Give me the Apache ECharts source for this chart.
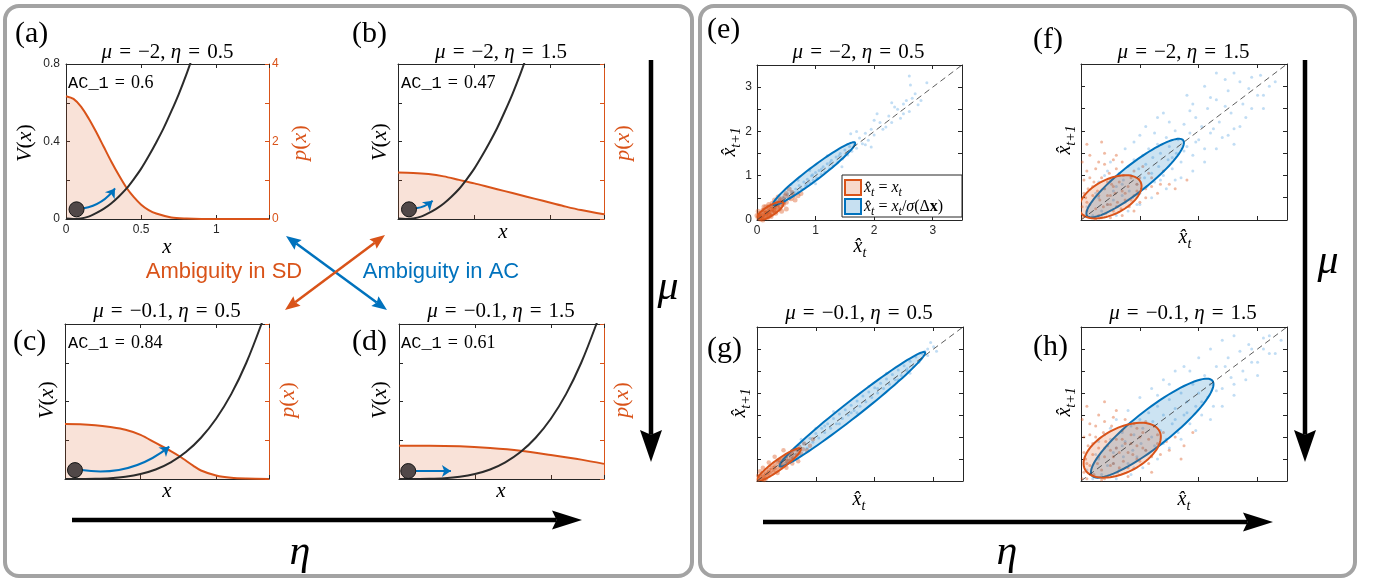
<!DOCTYPE html>
<html><head><meta charset="utf-8">
<script src="https://cdn.jsdelivr.net/npm/echarts@6/dist/echarts.min.js"></script>
<style>html,body{margin:0;padding:0;background:#fff}#c{width:1375px;height:583px}</style>
</head><body><div id="c"></div>
<script>
// ---------------- DATA ----------------
// potential V(x): panels (a),(b) mu=-2 ; panels (c),(d) mu=-0.1
const vMuNeg2 = [[0,0.003],[0.05,0.0005],[0.1,0.003],[0.15,0.012],[0.2,0.03],[0.25,0.052],[0.3,0.08],[0.35,0.115],[0.4,0.155],[0.45,0.205],[0.5,0.26],[0.55,0.325],[0.6,0.395],[0.65,0.47],[0.7,0.555],[0.75,0.645],[0.8,0.745],[0.85,0.855]];
const vMuNeg01 = [[0,0],[0.1,0.0001],[0.2,0.0009],[0.3,0.004],[0.4,0.0115],[0.5,0.0257],[0.6,0.049],[0.7,0.086],[0.8,0.139],[0.9,0.213],[1.0,0.311],[1.1,0.438],[1.2,0.6],[1.3,0.8],[1.35,0.917]];
// stationary density p(x)
const pA = [[0,3.17],[0.05,3.1],[0.1,2.9],[0.15,2.6],[0.2,2.25],[0.25,1.87],[0.3,1.49],[0.35,1.14],[0.4,0.82],[0.45,0.57],[0.5,0.37],[0.55,0.23],[0.6,0.14],[0.7,0.04],[0.8,0.01],[0.9,0],[1.35,0]];
const pB = [[0,1.2],[0.1,1.19],[0.2,1.16],[0.3,1.1],[0.4,1.01],[0.5,0.92],[0.6,0.82],[0.7,0.72],[0.8,0.62],[0.9,0.52],[1.0,0.42],[1.1,0.32],[1.2,0.23],[1.35,0.12]];
const pC = [[0,1.42],[0.1,1.415],[0.2,1.39],[0.3,1.34],[0.4,1.27],[0.5,1.14],[0.6,0.93],[0.7,0.72],[0.76,0.58],[0.85,0.34],[0.9,0.22],[1.0,0.09],[1.1,0.03],[1.2,0.01],[1.35,0]];
const pD = [[0,0.86],[0.2,0.86],[0.4,0.845],[0.6,0.8],[0.8,0.73],[1.0,0.62],[1.2,0.5],[1.35,0.39]];
// ball positions and blue arrows (x, V)
const ballA = [0.07,0.05], ballB = [0.072,0.05], ballC = [0.066,0.046], ballD = [0.061,0.041];
const arrowA = [[0.117,0.055],[0.326,0.158]];
const arrowB = [[0.118,0.055],[0.227,0.094]];
const arrowC = [[0.11,0.046],[0.69,0.167]];
const arrowD = [[0.112,0.041],[0.342,0.041]];
const acValues = ['0.6','0.47','0.84','0.61'];
const muValues = ['\u22122','\u22122','\u22120.1','\u22120.1'];
const etaValues = ['0.5','1.5','0.5','1.5'];
const panelLetters = ['(a)','(b)','(c)','(d)','(e)','(f)','(g)','(h)'];
// tick labels
const tickXA = [0,0.5,1], tickVA = [0,0.4,0.8], tickPA = [0,2,4], tickE = [0,1,2,3];
// right panels: scatter clouds [x_t, x_t+1]
const blueE = [[0.25,0.3],[0.32,0.28],[0.35,0.42],[0.4,0.36],[0.45,0.5],[0.48,0.41],[0.52,0.58],[0.55,0.49],[0.6,0.63],[0.62,0.55],[0.66,0.7],[0.7,0.64],[0.72,0.78],[0.76,0.7],[0.8,0.86],[0.83,0.77],[0.86,0.92],[0.9,0.84],[0.93,1.0],[0.96,0.9],[1.0,1.07],[1.02,0.95],[1.06,1.12],[1.1,1.03],[1.13,1.2],[1.16,1.08],[1.2,1.27],[1.24,1.16],[1.27,1.35],[1.3,1.22],[1.35,1.42],[1.38,1.3],[1.42,1.5],[1.46,1.38],[1.5,1.58],[1.55,1.47],[1.58,1.66],[1.62,1.55],[1.66,1.75],[1.7,1.62],[1.75,1.85],[1.8,1.72],[1.85,1.96],[1.9,1.8],[1.95,2.05],[2.0,1.92],[2.1,2.2],[2.15,2.05],[2.25,2.35],[2.3,2.2],[2.4,2.5],[2.45,2.3],[2.55,2.7],[2.6,2.45],[2.7,2.85],[2.62,3.05],[2.5,2.62],[1.6,1.95],[1.2,1.45],[0.9,1.12],[1.45,1.2],[0.7,0.9],[2.05,2.4],[2.75,2.6],[0.58,0.8],[1.0,0.82],[2.2,2.1],[2.35,2.55],[2.5,2.4],[2.65,2.75],[2.8,2.7],[2.9,3.1],[1.85,1.7],[2.0,2.25],[2.6,3.25],[1.7,2.0],[2.3,2.65],[1.95,1.65],[0.85,0.8],[1.1,1.15],[1.4,1.45],[0.65,0.62],[1.25,1.3],[0.95,1.02]];
const orangeE = [[0.02,0.05],[0.05,0.02],[0.08,0.1],[0.1,0.05],[0.12,0.15],[0.15,0.1],[0.18,0.2],[0.2,0.12],[0.22,0.25],[0.25,0.18],[0.28,0.3],[0.3,0.22],[0.33,0.35],[0.35,0.28],[0.38,0.42],[0.4,0.3],[0.43,0.48],[0.45,0.35],[0.48,0.55],[0.5,0.4],[0.55,0.5],[0.6,0.62],[0.65,0.45],[0.05,0.15],[0.1,0.22],[0.15,0.3],[0.2,0.35],[0.3,0.45],[0.06,0.08],[0.14,0.06],[0.24,0.08],[0.32,0.15],[0.42,0.2],[0.12,0.3],[0.02,0.2],[0.08,0.02],[0.18,0.05],[0.03,0.1],[0.26,0.38],[0.36,0.52],[0.5,0.25],[0.7,0.55],[0.55,0.7],[0.16,0.16],[0.22,0.15],[0.28,0.22],[0.05,0.05],[0.1,0.1],[0.15,0.15],[0.2,0.2],[0.25,0.25],[0.3,0.3],[0.35,0.35],[0.1,0.0],[0.0,0.1],[0.2,0.3],[0.3,0.2],[0.4,0.45],[0.45,0.4],[0.58,0.48],[0.62,0.55],[0.75,0.6],[0.5,0.6],[0.12,0.22],[0.22,0.1],[0.38,0.25]];
const blueF = [[0.1,0.3],[0.2,0.1],[0.3,0.5],[0.35,0.2],[0.4,0.7],[0.45,0.35],[0.5,0.9],[0.55,0.45],[0.6,0.75],[0.62,0.3],[0.65,1.05],[0.7,0.55],[0.72,0.9],[0.75,0.4],[0.8,1.2],[0.82,0.65],[0.85,1.0],[0.88,0.5],[0.9,1.35],[0.95,0.8],[0.98,1.15],[1.0,0.6],[1.05,1.45],[1.08,0.95],[1.1,1.25],[1.12,0.75],[1.15,1.6],[1.2,1.05],[1.22,1.4],[1.25,0.85],[1.3,1.7],[1.32,1.2],[1.35,1.5],[1.4,1.0],[1.45,1.85],[1.48,1.35],[1.5,1.65],[1.55,1.15],[1.6,2.0],[1.62,1.5],[1.65,1.8],[1.7,1.3],[1.75,2.15],[1.8,1.65],[1.85,1.95],[1.9,1.45],[1.95,2.3],[2.0,1.8],[2.05,2.1],[2.1,1.6],[2.15,2.5],[2.2,1.95],[2.3,2.7],[2.35,2.2],[2.4,1.85],[2.5,2.9],[2.55,2.4],[2.6,2.05],[2.7,3.1],[2.75,2.6],[2.8,2.3],[2.9,3.2],[3.0,2.8],[3.1,2.5],[2.3,3.3],[1.3,2.3],[0.5,1.3],[1.9,2.6],[1.0,1.9],[2.6,1.7],[1.7,0.95],[3.2,3.0],[2.45,3.15],[0.3,0.85],[0.45,1.1],[0.6,0.1],[0.8,0.2],[1.0,0.35],[1.2,0.5],[1.45,0.7],[1.6,0.9],[1.9,1.1],[2.1,1.3],[2.3,1.6],[2.5,1.9],[2.7,2.1],[2.9,2.5],[3.1,2.8],[3.3,3.1],[1.1,2.1],[1.4,2.4],[1.8,2.8],[2.1,3.0],[0.75,1.6],[0.9,1.75],[2.2,2.75],[2.6,3.3],[1.5,2.2],[1.25,1.95],[0.4,1.0],[0.25,0.6],[1.85,2.45],[2.45,2.55],[2.85,2.95],[3.05,3.25],[1.55,1.4],[1.75,1.55],[1.95,1.75],[2.25,2.05],[0.95,0.35],[1.35,0.9],[0.55,0.65],[0.7,0.8]];
const orangeF = [[0.02,0.3],[0.05,0.1],[0.08,0.5],[0.1,0.2],[0.12,0.7],[0.15,0.35],[0.18,0.05],[0.2,0.55],[0.22,0.85],[0.25,0.25],[0.28,0.65],[0.3,0.1],[0.32,0.45],[0.35,0.95],[0.38,0.3],[0.4,0.7],[0.42,0.15],[0.45,0.55],[0.48,1.05],[0.5,0.35],[0.52,0.8],[0.55,0.2],[0.58,0.6],[0.6,1.15],[0.62,0.4],[0.65,0.85],[0.68,0.25],[0.7,0.65],[0.72,1.0],[0.75,0.45],[0.8,0.75],[0.82,0.3],[0.85,0.95],[0.9,0.55],[0.95,0.8],[1.0,0.4],[1.05,1.2],[1.1,0.7],[1.2,0.95],[1.3,0.6],[0.05,0.9],[0.1,1.1],[0.3,1.3],[0.15,1.45],[0.4,1.5],[0.6,1.45],[1.4,1.1],[1.5,0.8],[0.03,0.05],[0.25,0.02],[0.5,0.05],[0.7,0.1],[0.9,0.2],[0.1,0.4],[0.2,0.75],[0.3,0.55],[0.35,0.05],[0.45,0.85],[0.5,0.55],[0.6,0.3],[0.65,1.0],[0.75,0.6],[0.85,0.45],[0.95,0.65],[1.1,0.5],[1.2,0.75],[0.05,0.6],[0.15,0.95],[0.25,1.15],[0.4,1.25],[0.55,1.35],[0.7,1.3],[0.9,1.1],[1.0,0.95],[1.15,1.05],[1.35,0.8],[1.6,0.7],[0.02,1.3],[0.1,1.7],[0.35,1.75],[1.8,0.9],[0.45,0.35],[0.55,0.75]];
const blueG = [[0.4,0.35],[0.45,0.5],[0.5,0.42],[0.55,0.6],[0.6,0.52],[0.68,0.7],[0.72,0.62],[0.8,0.85],[0.85,0.75],[0.9,0.97],[0.95,0.88],[1.0,1.08],[1.05,0.98],[1.1,1.2],[1.15,1.1],[1.2,1.3],[1.25,1.2],[1.3,1.42],[1.35,1.3],[1.4,1.52],[1.45,1.42],[1.5,1.62],[1.55,1.5],[1.6,1.72],[1.65,1.6],[1.7,1.82],[1.75,1.7],[1.8,1.93],[1.85,1.8],[1.9,2.02],[1.95,1.9],[2.0,2.12],[2.05,2.0],[2.1,2.22],[2.15,2.1],[2.2,2.32],[2.25,2.2],[2.3,2.42],[2.35,2.3],[2.4,2.52],[2.45,2.4],[2.5,2.62],[2.55,2.5],[2.6,2.72],[2.65,2.6],[2.7,2.82],[2.75,2.7],[2.85,2.95],[2.9,2.85],[3.0,3.05],[1.3,1.58],[1.7,1.55],[2.2,2.45],[0.75,0.95],[2.6,2.45],[2.9,3.0],[2.8,2.9],[3.05,2.95],[2.95,3.15],[1.0,1.2],[1.4,1.3],[1.9,2.15],[2.4,2.3],[0.6,0.7],[0.35,0.45],[0.5,0.55],[0.65,0.6],[1.15,1.25],[1.6,1.55],[2.05,2.1],[2.55,2.55]];
const orangeG = [[0.02,0.03],[0.05,0.1],[0.08,0.04],[0.1,0.15],[0.12,0.08],[0.15,0.2],[0.18,0.12],[0.2,0.25],[0.22,0.16],[0.25,0.3],[0.28,0.2],[0.3,0.35],[0.32,0.25],[0.35,0.42],[0.38,0.3],[0.4,0.47],[0.42,0.35],[0.45,0.52],[0.48,0.4],[0.5,0.58],[0.52,0.45],[0.55,0.62],[0.58,0.5],[0.6,0.68],[0.62,0.52],[0.65,0.72],[0.68,0.6],[0.72,0.78],[0.75,0.62],[0.8,0.85],[0.85,0.7],[0.9,0.8],[0.1,0.3],[0.2,0.42],[0.35,0.18],[0.5,0.3],[0.3,0.55],[0.7,0.45],[0.05,0.22],[0.15,0.05],[0.45,0.7],[0.95,0.95],[0.6,0.4],[0.05,0.05],[0.1,0.1],[0.15,0.15],[0.2,0.2],[0.25,0.25],[0.3,0.3],[0.4,0.4],[0.5,0.5],[0.6,0.6],[0.7,0.7],[0.12,0.02],[0.02,0.12],[0.38,0.48],[0.55,0.45],[0.78,0.72]];
const blueH = [[0.1,0.25],[0.2,0.05],[0.3,0.5],[0.35,0.15],[0.4,0.75],[0.45,0.35],[0.5,0.95],[0.55,0.4],[0.6,0.75],[0.65,0.25],[0.7,1.1],[0.72,0.55],[0.75,0.9],[0.8,0.4],[0.85,1.25],[0.88,0.7],[0.9,1.05],[0.95,0.55],[1.0,1.4],[1.02,0.85],[1.05,1.2],[1.1,0.7],[1.15,1.55],[1.2,1.0],[1.22,1.35],[1.25,0.8],[1.3,1.7],[1.35,1.15],[1.4,1.5],[1.45,0.95],[1.5,1.85],[1.55,1.3],[1.6,1.65],[1.65,1.1],[1.7,2.0],[1.75,1.5],[1.8,1.8],[1.85,1.3],[1.9,2.2],[1.95,1.7],[2.0,2.0],[2.05,1.5],[2.1,2.4],[2.15,1.9],[2.2,2.2],[2.25,1.7],[2.3,2.6],[2.4,2.1],[2.5,2.8],[2.55,2.35],[2.6,1.95],[2.7,2.95],[2.75,2.5],[2.85,3.1],[2.9,2.7],[3.0,2.4],[3.1,3.0],[3.2,3.3],[2.0,2.8],[1.2,2.1],[0.6,1.4],[3.3,2.9],[2.4,3.2],[1.6,2.5],[0.3,0.9],[0.5,1.2],[0.6,0.05],[0.85,0.15],[1.05,0.3],[1.3,0.5],[1.5,0.75],[1.7,0.95],[1.95,1.15],[2.2,1.4],[2.4,1.7],[2.6,2.2],[2.8,2.3],[3.0,2.7],[3.2,2.9],[3.4,3.2],[1.0,1.9],[1.4,2.3],[1.75,2.6],[2.2,3.0],[0.8,1.6],[2.6,3.3],[1.5,2.2],[1.3,1.95],[0.4,1.05],[0.25,0.6],[1.85,2.5],[2.45,2.6],[2.9,3.0],[3.1,3.25],[1.6,1.4],[1.8,1.55],[2.05,1.8],[2.3,2.05],[0.9,0.3],[1.4,0.85],[0.55,0.65],[0.7,0.8]];
const orangeH = [[0.05,0.2],[0.08,0.5],[0.1,0.05],[0.12,0.8],[0.15,0.35],[0.2,0.6],[0.22,0.15],[0.25,1.0],[0.28,0.4],[0.3,0.75],[0.35,0.25],[0.38,1.1],[0.4,0.55],[0.42,0.9],[0.45,0.1],[0.5,0.7],[0.52,1.25],[0.55,0.4],[0.6,0.95],[0.62,0.2],[0.65,0.65],[0.7,1.15],[0.72,0.45],[0.75,0.85],[0.8,0.3],[0.85,1.05],[0.88,0.6],[0.9,1.3],[0.95,0.8],[1.0,0.45],[1.05,1.1],[1.1,0.7],[1.15,0.95],[1.2,0.55],[1.25,1.25],[1.3,0.85],[1.4,1.1],[1.5,0.7],[0.05,1.0],[0.15,1.3],[0.3,1.5],[0.6,1.6],[1.6,1.0],[1.7,0.5],[0.02,0.05],[0.35,0.02],[0.8,0.1],[1.2,0.2],[0.1,0.4],[0.2,0.85],[0.3,0.55],[0.4,0.05],[0.45,0.8],[0.55,0.55],[0.65,0.3],[0.7,0.95],[0.8,0.65],[0.95,0.5],[1.05,0.75],[1.15,0.4],[1.3,1.05],[0.05,0.65],[0.15,1.05],[0.25,1.25],[0.4,1.35],[0.55,1.45],[0.75,1.4],[0.95,1.2],[1.1,1.35],[1.35,0.6],[1.45,0.9],[1.75,0.8],[0.02,1.4],[0.1,1.7],[0.4,1.8],[1.9,1.1],[0.5,0.35],[0.85,0.85],[1.0,1.0],[0.6,0.75]];
// covariance ellipses: [centerX, centerY, semiMajor, semiMinor, angleDeg]
const ellBlueE = [0.975,1.045,0.99,0.13,45.4], ellOrangeE = [0.22,0.2,0.3,0.1,42];
const ellBlueF = [0.92,0.94,1.18,0.27,47], ellOrangeF = [0.5,0.52,0.62,0.36,40];
const ellBlueG = [1.62,1.63,1.79,0.16,46.5], ellOrangeG = [0.37,0.37,0.52,0.1,45];
const ellBlueH = [1.21,1.2,1.49,0.36,47.5], ellOrangeH = [0.7,0.7,0.78,0.46,42];
const diagLine = [[0,0],[3.5,3.5]];

// ---------------- LAYOUT / STYLE ----------------
const ORANGE = '#D95319', BLUE = '#0072BD', AX = '#262626';
const SERIF = "'Liberation Serif','DejaVu Serif',serif";
const SANS = "'Liberation Sans',Arial,sans-serif";
const MONO = "'Liberation Mono','DejaVu Sans Mono',monospace";
const gridBoxes = [[66,64,203,155],[398,64,206,155],[65,324,204,155],[399,324,205,155],[757,65,205,155],[1081,64,206,156],[757,327,206,154],[1081,327,206,154]];

const has = (arr, v) => arr.some(t => Math.abs(t - v) < 1e-9);
const grids = gridBoxes.map(g => ({left:g[0], top:g[1], width:g[2], height:g[3], containLabel:false}));
const xAxes = [], yAxes = [];
function mkAxis(gi, pos, min, max, interval, color, labels, margin) {
  return {
    gridIndex: gi, type: 'value', position: pos, min, max, interval,
    axisLine: {show: true, onZero: false, lineStyle: {color, width: 1}},
    axisTick: {show: true, inside: true, length: 4, lineStyle: {color, width: 1}},
    axisLabel: labels ? {show: true, color, fontSize: 12, fontFamily: SANS, margin, showMinLabel: true, showMaxLabel: true,
      formatter: v => has(labels, v) ? String(v) : ''} : {show: false},
    splitLine: {show: false}
  };
}
for (let gi = 0; gi < 8; gi++) {
  if (gi < 4) {
    xAxes.push(mkAxis(gi, 'bottom', 0, 1.35, 0.5, AX, gi === 0 ? tickXA : null, 5));
    xAxes.push(mkAxis(gi, 'top', 0, 1.35, 0.5, AX, null));
    yAxes.push(mkAxis(gi, 'left', 0, 0.8, 0.2, AX, gi === 0 ? tickVA : null, 6));
    yAxes.push(mkAxis(gi, 'right', 0, 4, 1, ORANGE, gi === 0 ? tickPA : null, 3));
  } else {
    xAxes.push(mkAxis(gi, 'bottom', 0, 3.5, 1, AX, gi === 4 ? tickE : null, 5));
    xAxes.push(mkAxis(gi, 'top', 0, 3.5, 1, AX, null));
    yAxes.push(mkAxis(gi, 'left', 0, 3.5, 0.5, AX, gi === 4 ? tickE : null, 5));
    yAxes.push(mkAxis(gi, 'right', 0, 3.5, 0.5, AX, null));
  }
}

const series = [];
const leftP = [pA, pB, pC, pD];
const leftV = [vMuNeg2, vMuNeg2, vMuNeg01, vMuNeg01];
const balls = [ballA, ballB, ballC, ballD];
const arrows = [arrowA, arrowB, arrowC, arrowD];
const curv = [-0.2, -0.15, -0.22, 0];
for (let i = 0; i < 4; i++) {
  series.push({type:'line', xAxisIndex:2*i, yAxisIndex:2*i+1, data:leftP[i], smooth:0.3, symbol:'none', silent:true,
    lineStyle:{color:ORANGE, width:2}, areaStyle:{color:'rgba(217,83,25,0.24)'}, z:2});
  series.push({type:'line', xAxisIndex:2*i, yAxisIndex:2*i, data:leftV[i], smooth:0.3, symbol:'none', silent:true,
    lineStyle:{color:'#2b2b2b', width:2}, z:3});
  series.push({type:'lines', coordinateSystem:'cartesian2d', xAxisIndex:2*i, yAxisIndex:2*i, silent:true,
    data:[{coords:arrows[i]}], symbol:['none','arrow'], symbolSize:9,
    lineStyle:{color:BLUE, width:2, curveness:curv[i], opacity:1}, z:4});
  series.push({type:'scatter', xAxisIndex:2*i, yAxisIndex:2*i, data:[balls[i]], symbolSize:15, silent:true,
    itemStyle:{color:'#514848', borderColor:'#151515', borderWidth:1, opacity:1}, z:5});
}
function ellipseSeries(ax, params, stroke, fill) {
  return {type:'custom', xAxisIndex:ax, yAxisIndex:ax, data:[params], clip:true, silent:true, z:3,
    renderItem: (p, api) => {
      const cx = api.value(0), cy = api.value(1), a = api.value(2), b = api.value(3), th = api.value(4) * Math.PI / 180;
      const pts = [];
      for (let k = 0; k <= 90; k++) {
        const t = 2 * Math.PI * k / 90;
        const dx = a * Math.cos(t) * Math.cos(th) - b * Math.sin(t) * Math.sin(th);
        const dy = a * Math.cos(t) * Math.sin(th) + b * Math.sin(t) * Math.cos(th);
        pts.push(api.coord([cx + dx, cy + dy]));
      }
      return {type:'polygon', shape:{points:pts}, style:{fill, stroke, lineWidth:2}};
    }};
}
const blueClouds = [blueE, blueF, blueG, blueH];
const orangeClouds = [orangeE, orangeF, orangeG, orangeH];
const blueEll = [ellBlueE, ellBlueF, ellBlueG, ellBlueH];
const orangeEll = [ellOrangeE, ellOrangeF, ellOrangeG, ellOrangeH];
const orangeSize = [5, 3, 4.5, 3];
for (let j = 0; j < 4; j++) {
  const ax = 2 * (4 + j);
  series.push({type:'scatter', xAxisIndex:ax, yAxisIndex:ax, data:blueClouds[j], symbolSize:3, silent:true,
    itemStyle:{color:'rgba(70,155,222,0.42)'}, z:2});
  series.push({type:'scatter', xAxisIndex:ax, yAxisIndex:ax, data:orangeClouds[j], symbolSize:orangeSize[j], silent:true,
    itemStyle:{color:'rgba(217,83,25,0.5)'}, z:2});
  series.push(ellipseSeries(ax, blueEll[j], BLUE, 'rgba(0,114,189,0.2)'));
  series.push(ellipseSeries(ax, orangeEll[j], ORANGE, 'rgba(217,83,25,0.2)'));
  series.push({type:'line', xAxisIndex:ax, yAxisIndex:ax, data:diagLine, symbol:'none', silent:true,
    lineStyle:{color:'#333', width:0.8, type:[6,4]}, z:5});
}

// ---------------- GRAPHIC (frames, arrows, text) ----------------
const G = [];
G.push({type:'rect', z:1, shape:{x:5, y:6, width:687, height:570, r:14}, style:{fill:'none', stroke:'#a3a3a3', lineWidth:4}});
G.push({type:'rect', z:1, shape:{x:700, y:6, width:655, height:570, r:14}, style:{fill:'none', stroke:'#a3a3a3', lineWidth:4}});
function arrowEls(x1, y1, x2, y2, w, hl, hw, color, both) {
  const dx = x2 - x1, dy = y2 - y1, L = Math.hypot(dx, dy), ux = dx / L, uy = dy / L, px = -uy, py = ux;
  const head = (tx, ty, sx, sy) => ({type:'polygon', z:90, shape:{points:[[tx,ty],[tx - sx*hl + px*hw, ty - sy*hl + py*hw],[tx - sx*hl*0.85, ty - sy*hl*0.85],[tx - sx*hl - px*hw, ty - sy*hl - py*hw]]}, style:{fill:color}});
  const s0 = both ? hl * 0.85 : 0;
  const out = [{type:'line', z:90, shape:{x1:x1 + ux*s0, y1:y1 + uy*s0, x2:x2 - ux*hl*0.85, y2:y2 - uy*hl*0.85}, style:{stroke:color, lineWidth:w}}];
  out.push(head(x2, y2, ux, uy));
  if (both) out.push(head(x1, y1, -ux, -uy));
  return out;
}
G.push(...arrowEls(72, 520, 582, 520, 4.5, 30, 9.5, '#000', false));
G.push(...arrowEls(763, 522, 1273, 522, 4.5, 30, 9.5, '#000', false));
G.push(...arrowEls(651, 60, 651, 462, 4.5, 32, 11, '#000', false));
G.push(...arrowEls(1305, 60, 1305, 462, 4.5, 32, 11, '#000', false));
G.push(...arrowEls(286, 236, 387, 310, 2.5, 15, 6, BLUE, true));
G.push(...arrowEls(385, 235, 285, 310, 2.5, 15, 6, ORANGE, true));

function T(x, y, text, st, rot) {
  return {type:'text', x, y, rotation: rot || 0, z:100, silent:true,
    style: Object.assign({text, fill:'#000', align:'center', verticalAlign:'middle', fontFamily:SERIF, fontSize:18}, st)};
}
const richMath = (fs, col) => ({
  i:{fontStyle:'italic', fontFamily:SERIF, fontSize:fs, lineHeight:fs+6, verticalAlign:'middle', color:col},
  n:{fontFamily:SERIF, fontSize:fs, lineHeight:fs+6, verticalAlign:'middle', color:col},
  s:{fontStyle:'italic', fontFamily:SERIF, fontSize:Math.round(fs*0.72), lineHeight:Math.round(fs*0.72), verticalAlign:'bottom', color:col},
  b:{fontWeight:'bold', fontFamily:SERIF, fontSize:fs, lineHeight:fs+6, verticalAlign:'middle', color:col},
  m:{fontFamily:MONO, fontSize:fs-1, lineHeight:fs+6, verticalAlign:'middle', color:col}
});
const EQ = '\u2004=\u2004';
// panel letters
const letterPos = [[15,34],[352,34],[13,342],[352,342],[707,30],[1033,40],[707,349],[1033,347]];
letterPos.forEach((p, k) => G.push(T(p[0], p[1], panelLetters[k], {align:'left', fontSize:30})));
// titles
const titlePos = [[167.5,52],[501,52],[167,311],[501,311],[858.5,52],[1183.5,52],[859,313],[1183,313]];
titlePos.forEach((p, k) => G.push(T(p[0], p[1], '{i|\u03bc}{n|' + EQ + muValues[k % 4] + ', }{i|\u03b7}{n|' + EQ + etaValues[k % 4] + '}', {rich: richMath(21), fontSize:21})));
// AC values
const acPos = [[68,83],[401,83],[68,343],[401,343]];
acPos.forEach((p, k) => G.push(T(p[0], p[1], '{m|AC_1}{n|' + EQ + acValues[k] + '}', {align:'left', rich: richMath(18), fontSize:18})));
// axis names, left panels
const vPos = [[25,143],[380,142],[47,400],[380,400]];
const pPos = [[300,143],[623,143],[288,400],[622,400]];
const xPos = [[167,247],[503,232],[167,491],[501,491]];
vPos.forEach(p => G.push(T(p[0], p[1], '{i|V}{n|(}{i|x}{n|)}', {rich: richMath(22), fontSize:22}, Math.PI/2)));
pPos.forEach(p => G.push(T(p[0], p[1], '{i|p}{n|(}{i|x}{n|)}', {rich: richMath(22, ORANGE), fontSize:22, fill:ORANGE}, Math.PI/2)));
xPos.forEach(p => G.push(T(p[0], p[1], 'x', {fontStyle:'italic', fontSize:21})));
// axis names, right panels
const xhPos = [[860,247],[1185,238],[859,500],[1184,500]];
const yhPos = [[730,142],[1065,140],[740,403],[1065,402]];
xhPos.forEach(p => G.push(T(p[0], p[1], '{i|x\u0302}{s|t}', {rich: richMath(20), fontSize:20})));
yhPos.forEach(p => G.push(T(p[0], p[1], '{i|x\u0302}{s|t+1}', {rich: richMath(20), fontSize:20}, Math.PI/2)));
// legend in (e)
G.push({type:'rect', z:95, shape:{x:842, y:175, width:120, height:42}, style:{fill:'#fff', stroke:AX, lineWidth:1}});
G.push({type:'rect', z:96, shape:{x:845, y:180, width:16, height:15}, style:{fill:'rgba(217,83,25,0.22)', stroke:ORANGE, lineWidth:2}});
G.push({type:'rect', z:96, shape:{x:845, y:199, width:16, height:15}, style:{fill:'rgba(0,114,189,0.22)', stroke:BLUE, lineWidth:2}});
G.push(T(864, 188, '{i|x\u0302}{s|t}{n| = }{i|x}{s|t}', {align:'left', rich: richMath(16), fontSize:16}));
G.push(T(864, 207, '{i|x\u0302}{s|t}{n| = }{i|x}{s|t}{n|/}{i|\u03c3}{n|(\u0394}{b|x}{n|)}', {align:'left', rich: richMath(16), fontSize:16}));
// ambiguity labels
G.push(T(224, 272, 'Ambiguity in SD', {fontFamily:SANS, fontSize:22, fill:ORANGE}));
G.push(T(441, 272, 'Ambiguity in AC', {fontFamily:SANS, fontSize:22, fill:BLUE}));
// big mu / eta
G.push(T(300, 553, '\u03b7', {fontStyle:'italic', fontSize:42}));
G.push(T(1007, 553, '\u03b7', {fontStyle:'italic', fontSize:42}));
G.push(T(668, 288, '\u03bc', {fontStyle:'italic', fontSize:42}));
G.push(T(1328, 262, '\u03bc', {fontStyle:'italic', fontSize:42}));

const chart = echarts.init(document.getElementById('c'), null, {renderer:'canvas'});
chart.setOption({animation:false, backgroundColor:'#fff', grid:grids, xAxis:xAxes, yAxis:yAxes, series, graphic:{elements:G}});
</script></body></html>
